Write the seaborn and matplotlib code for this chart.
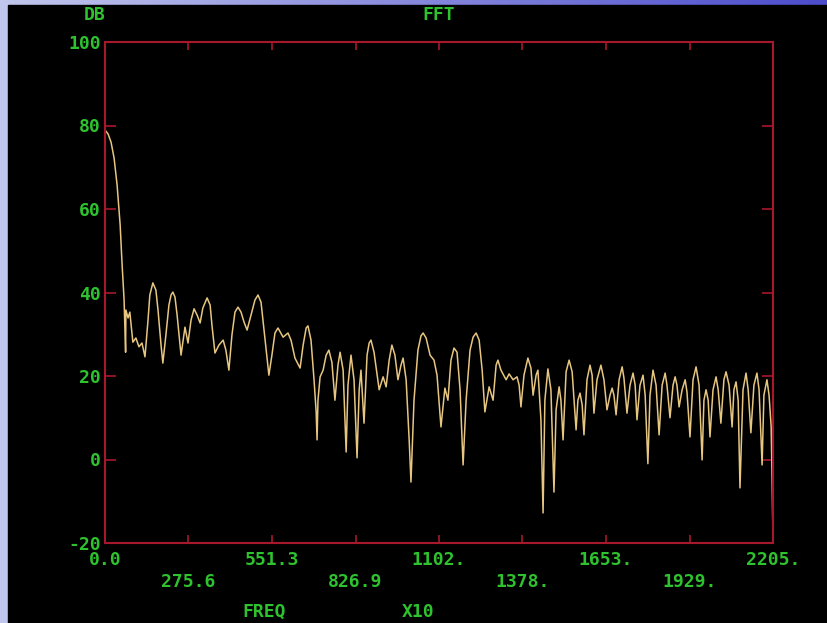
import numpy as np
import matplotlib
matplotlib.use("Agg")
import matplotlib.pyplot as plt
import seaborn as sns
from matplotlib.patches import Rectangle

# ---- data (frequency in units of x10 Hz, level in dB) ----
freq = [0, 10, 20, 30, 40, 50, 56, 63, 66, 68, 69, 76, 82, 92, 102, 112, 122, 132, 142, 148,
        158, 168, 175, 185, 191, 201, 211, 218, 224, 231, 238, 251, 264, 274, 284, 294, 304, 314, 323, 337,
        347, 353, 363, 376, 390, 399, 409, 419, 429, 439, 449, 459, 469, 482, 495, 505, 515, 525, 541, 551,
        561, 571, 588, 604, 614, 627, 644, 654, 664, 670, 680, 690, 697, 700, 703, 710, 720, 730, 739, 749,
        759, 769, 776, 786, 796, 802, 812, 822, 832, 839, 845, 855, 865, 872, 878, 888, 905, 918, 928, 938,
        947, 957, 967, 977, 984, 994, 1004, 1010, 1020, 1033, 1043, 1050, 1060, 1073, 1086, 1096, 1109, 1122, 1132, 1142,
        1152, 1162, 1172, 1182, 1192, 1205, 1215, 1225, 1235, 1245, 1254, 1268, 1281, 1291, 1297, 1307, 1324, 1334, 1347, 1360,
        1367, 1373, 1383, 1396, 1406, 1413, 1423, 1429, 1439, 1446, 1452, 1462, 1472, 1482, 1489, 1499, 1505, 1512, 1522, 1532,
        1542, 1555, 1561, 1568, 1575, 1581, 1591, 1601, 1608, 1614, 1624, 1637, 1647, 1657, 1667, 1674, 1680, 1687, 1697, 1707,
        1713, 1723, 1733, 1743, 1750, 1756, 1766, 1776, 1783, 1792, 1799, 1809, 1819, 1829, 1839, 1849, 1855, 1865, 1875, 1882,
        1888, 1895, 1905, 1915, 1921, 1931, 1941, 1951, 1961, 1971, 1977, 1984, 1991, 1997, 2007, 2017, 2024, 2033, 2043, 2050,
        2060, 2070, 2076, 2083, 2090, 2096, 2106, 2116, 2123, 2132, 2142, 2152, 2159, 2169, 2175, 2185, 2192, 2199, 2202, 2205]
db = [78.9, 78.0, 76.0, 72.2, 65.7, 56.2, 47.3, 38.2, 31.0, 25.7, 35.8, 33.9, 35.3, 28.1, 29.1, 27.0, 27.9, 24.6, 33.4, 39.4,
      42.3, 40.6, 35.8, 27.4, 23.1, 29.8, 37.0, 39.4, 40.1, 38.9, 34.6, 25.0, 31.7, 27.9, 33.4, 36.1, 34.6, 32.7, 36.3, 38.7,
      37.0, 32.2, 25.5, 27.4, 28.6, 26.2, 21.4, 29.8, 35.3, 36.5, 35.3, 32.9, 31.0, 34.6, 38.2, 39.4, 37.7, 31.0, 20.2, 25.0,
      30.3, 31.5, 29.3, 30.3, 28.6, 24.3, 21.9, 27.4, 31.5, 32.0, 28.6, 19.1, 11.4, 4.7, 14.2, 19.8, 21.4, 25.0, 26.2, 23.3,
      14.2, 22.6, 25.7, 21.4, 1.8, 17.8, 25.0, 19.1, 0.4, 16.7, 21.4, 8.7, 25.0, 27.9, 28.6, 25.7, 16.7, 19.8, 17.4, 23.8,
      27.4, 25.0, 19.1, 22.6, 24.3, 19.1, 4.7, -5.4, 14.2, 26.2, 29.6, 30.3, 29.1, 25.0, 23.8, 20.2, 7.8, 17.1, 14.2, 23.8,
      26.7, 25.7, 16.7, -1.3, 14.2, 26.2, 29.3, 30.3, 28.6, 21.4, 11.4, 17.4, 14.2, 22.6, 23.8, 21.4, 19.1, 20.5, 19.1, 19.8,
      17.8, 12.6, 20.2, 24.3, 21.9, 15.4, 20.2, 21.4, 9.5, -12.8, 14.2, 21.7, 16.7, -7.8, 11.9, 17.4, 14.2, 4.7, 21.0, 23.8,
      21.0, 7.1, 14.2, 15.9, 13.1, 5.9, 19.1, 22.6, 20.2, 11.1, 19.1, 22.6, 19.1, 11.9, 15.4, 17.1, 15.4, 10.7, 19.1, 22.2,
      19.5, 11.1, 17.8, 20.7, 17.8, 9.5, 17.8, 20.2, 15.4, -1.0, 15.4, 21.4, 17.8, 5.9, 17.8, 20.7, 17.8, 10.0, 17.8, 19.8,
      17.8, 12.6, 16.7, 19.1, 16.2, 5.4, 19.1, 22.2, 17.8, -0.1, 14.2, 16.7, 14.2, 5.4, 16.7, 19.8, 16.7, 8.7, 19.1, 21.0,
      17.8, 7.8, 16.7, 18.6, 14.2, -6.8, 16.7, 20.7, 16.7, 6.4, 17.8, 20.7, 16.7, -1.3, 15.4, 19.1, 15.4, 7.8, -4.9, -19.3]

x_ticks = [0.0, 275.6, 551.3, 826.9, 1102.5, 1378.1, 1653.8, 1929.4, 2205.0]
x_tick_labels = ["0.0", "275.6", "551.3", "826.9", "1102.", "1378.", "1653.", "1929.", "2205."]
y_ticks = [-20, 0, 20, 40, 60, 80, 100]
y_tick_labels = ["-20", "0", "20", "40", "60", "80", "100"]

RED = "#a8182c"
GREEN = "#2ec22e"
LINE = "#e6c680"
FONT = dict(family="DejaVu Sans Mono", weight="bold", size=13, color=GREEN)

sns.set_style("dark")
plt.rcParams["font.family"] = ["DejaVu Sans Mono", "DejaVu Sans"]

W, H = 827, 623
fig = plt.figure(figsize=(W / 100, H / 100), dpi=100)
fig.patch.set_facecolor("black")

# blue frame (background slide gradient)
bg = fig.add_axes([0, 0, 1, 1], zorder=-10)
grad = np.linspace(0, 1, 256)
c0 = np.array([0.76, 0.78, 0.93])
c1 = np.array([0.30, 0.30, 0.80])
img = (c0[None, :] * (1 - grad[:, None]) + c1[None, :] * grad[:, None])[None, :, :]
bg.imshow(img, aspect="auto", extent=[0, 1, 0, 1])
bg.add_patch(Rectangle((8 / W, 0), 1, 1 - 5 / H, color="black", transform=bg.transAxes))
bg.set_xlim(0, 1)
bg.set_ylim(0, 1)
bg.axis("off")

ax = fig.add_axes([105 / W, 1 - 543 / H, 668 / W, 501 / H])
ax.set_facecolor("black")
sns.lineplot(x=freq, y=db, ax=ax, color=LINE, linewidth=1.1, sort=False, estimator=None)
ax.set_xlim(0, 2205)
ax.set_ylim(-20, 100)
ax.grid(False)
for s in ax.spines.values():
    s.set_visible(True)
    s.set_color(RED)
    s.set_linewidth(1.5)

ax.set_xticks(x_ticks)
ax.set_xticklabels([lab if i % 2 == 0 else "\n" + lab for i, lab in enumerate(x_tick_labels)],
                   fontdict=FONT, linespacing=1.25)
ax.set_yticks(y_ticks)
ax.set_yticklabels(y_tick_labels, fontdict=FONT)
ax.tick_params(axis="x", direction="in", top=True, bottom=True, color=RED, length=6, width=1.2, pad=6)
ax.tick_params(axis="y", direction="in", left=True, right=True, color=RED, length=8, width=1.2, pad=3)
ax.set_xlabel("")
ax.set_ylabel("")

fig.text(95 / W, 1 - 15 / H, "DB", ha="center", va="center", **FONT)
fig.text(439 / W, 1 - 15 / H, "FFT", ha="center", va="center", **FONT)
fig.text(264 / W, 1 - 612 / H, "FREQ", ha="center", va="center", **FONT)
fig.text(418 / W, 1 - 612 / H, "X10", ha="center", va="center", **FONT)

fig.savefig("out.png", dpi=100, facecolor=fig.get_facecolor())
